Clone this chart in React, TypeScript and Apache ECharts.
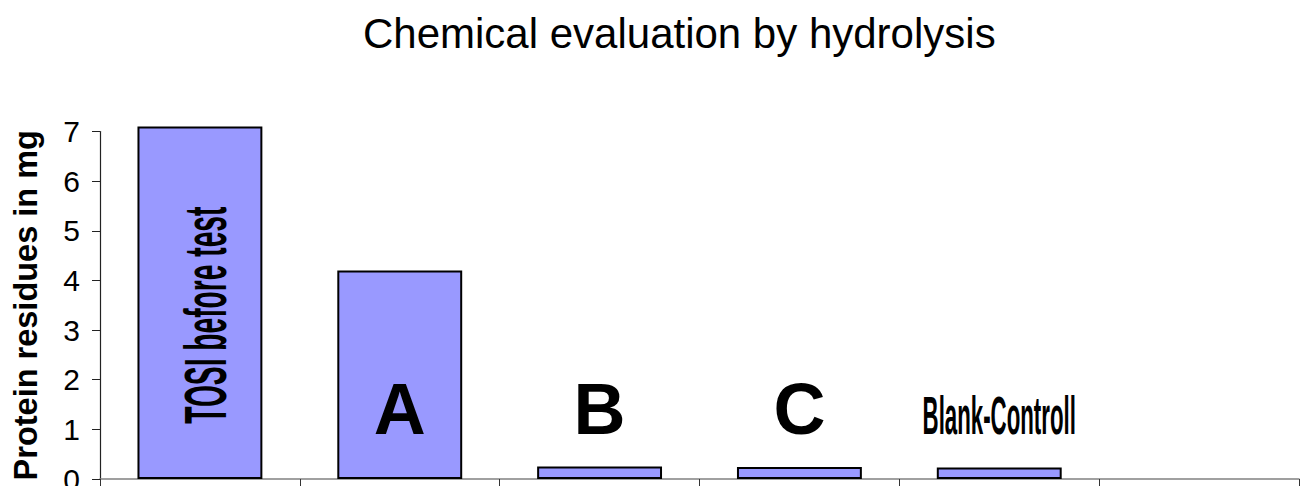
import React, { useEffect, useRef } from "react";
import * as echarts from "echarts";

const TITLE = "Chemical evaluation by hydrolysis";
const Y_AXIS_NAME = "Protein residues in mg";
const categories = ["TOSI before test", "A", "B", "C", "Blank-Controll", ""];
const values: (number | string)[] = [7.1, 4.2, 0.25, 0.24, 0.23, "-"];
const yMin = 0;
const yMax = 7;
const yInterval = 1;

const FONT = '"Liberation Sans", Arial, Helvetica, sans-serif';

// label appearance per category (style only)
const labelStyles = [
  { size: 60, scaleX: 0.47, rotate: true },
  { size: 72, scaleX: 1, rotate: false },
  { size: 72, scaleX: 1, rotate: false },
  { size: 72, scaleX: 1, rotate: false },
  { size: 53, scaleX: 0.42, rotate: false },
];

export default function App() {
  const ref = useRef<HTMLDivElement>(null);

  useEffect(() => {
    if (!ref.current) return;
    const chart = echarts.init(ref.current, null, { renderer: "svg" });
    chart.setOption({
      animation: false,
      backgroundColor: "#ffffff",
      title: {
        text: TITLE,
        left: 363,
        top: 12,
        padding: 0,
        textStyle: {
          fontFamily: FONT,
          fontSize: 42,
          fontWeight: "normal",
          color: "#000",
        },
      },
      grid: {
        left: 100,
        right: 7,
        top: 131.5,
        bottom: 7,
        containLabel: false,
        outerBoundsMode: "none",
      },
      xAxis: {
        type: "category",
        data: categories,
        boundaryGap: true,
        axisLine: { show: true, lineStyle: { color: "#808080", width: 1.5 } },
        axisTick: {
          show: true,
          alignWithLabel: false,
          length: 8,
          lineStyle: { color: "#333", width: 1 },
        },
        axisLabel: { show: false },
        splitLine: { show: false },
      },
      yAxis: {
        type: "value",
        min: yMin,
        max: yMax,
        interval: yInterval,
        name: Y_AXIS_NAME,
        nameLocation: "middle",
        nameRotate: 90,
        nameGap: 58,
        nameTextStyle: {
          fontFamily: FONT,
          fontSize: 32.5,
          fontWeight: "bold",
          color: "#000",
        },
        axisLine: { show: true, lineStyle: { color: "#222", width: 1.2 } },
        axisTick: {
          show: true,
          inside: false,
          length: 8,
          lineStyle: { color: "#222", width: 1 },
        },
        axisLabel: {
          fontFamily: FONT,
          fontSize: 30,
          color: "#000",
          margin: 20,
        },
        splitLine: { show: false },
      },
      series: [
        {
          type: "bar",
          data: values,
          barWidth: "62.5%",
          clip: false,
          itemStyle: { color: "#9999FF", borderColor: "#000", borderWidth: 2 },
        },
      ],
    });

    const graphics: any[] = [];
    labelStyles.forEach((st, i) => {
      if (st.rotate) {
        const p = chart.convertToPixel({ seriesIndex: 0 }, [i, 3.3]) as number[];
        graphics.push({
          type: "text",
          x: p[0] + 6,
          y: p[1],
          z: 100,
          rotation: Math.PI / 2,
          scaleX: st.scaleX,
          style: {
            text: categories[i],
            font: `bold ${st.size}px ${FONT}`,
            fill: "#000",
            align: "center",
            verticalAlign: "middle",
          },
        });
      } else {
        const p = chart.convertToPixel({ seriesIndex: 0 }, [i, 0.9]) as number[];
        graphics.push({
          type: "text",
          x: p[0],
          y: p[1] - 0.3465 * st.size,
          z: 100,
          scaleX: st.scaleX,
          style: {
            text: categories[i],
            font: `bold ${st.size}px ${FONT}`,
            fill: "#000",
            align: "center",
            verticalAlign: "middle",
          },
        });
      }
    });
    chart.setOption({ graphic: graphics });

    return () => chart.dispose();
  }, []);

  return (
    <div
      ref={ref}
      style={{ position: "fixed", left: 0, top: 0, width: 1306, height: 486 }}
    />
  );
}
